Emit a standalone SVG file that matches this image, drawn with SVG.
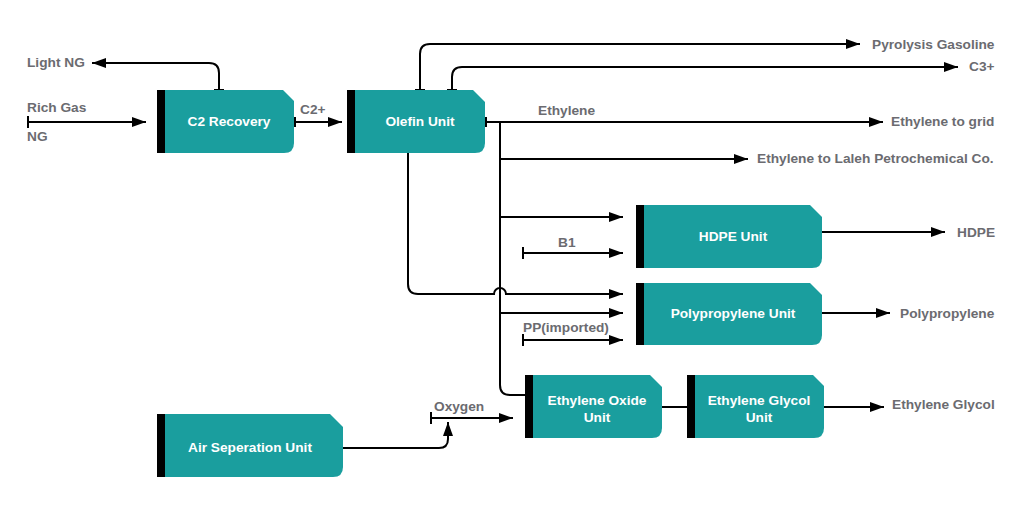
<svg xmlns="http://www.w3.org/2000/svg" width="1033" height="512" viewBox="0 0 1033 512">
<defs>
<marker id="arr" viewBox="0 0 14 10" refX="14" refY="5" markerWidth="14" markerHeight="10" markerUnits="userSpaceOnUse" orient="auto">
<path d="M0,0 L14,5 L0,10 Z" fill="#000"/>
</marker>
<style>
.box{fill:#1a9e9e}
.bar{fill:#000}
.bt{font-family:"Liberation Sans",Arial,sans-serif;font-weight:bold;font-size:13.7px;fill:#fff;text-anchor:middle}
.lb{font-family:"Liberation Sans",Arial,sans-serif;font-weight:bold;font-size:13.7px;fill:#6b6b70}
.c{fill:none;stroke:#000;stroke-width:2}
.a{marker-end:url(#arr)}
.t{fill:none;stroke:#000;stroke-width:2}
</style>
</defs>
<rect width="1033" height="512" fill="#fff"/>
<g id="connectors">
<path class="c a" d="M28,122 H146"/>
<path class="t" d="M28,116 V128"/>
<path class="c a" d="M219,90 V73 Q219,63 209,63 H92"/>
<path class="t" d="M214,90 H224"/>
<path class="c a" d="M294,122 H342"/>
<path class="t" d="M295,117 V127"/>
<path class="c a" d="M420,90 V54 Q420,44 430,44 H860"/>
<path class="t" d="M415,90 H425"/>
<path class="c a" d="M452,90 V77 Q452,67 462,67 H958"/>
<path class="t" d="M447,90 H457"/>
<path class="c a" d="M485,122 H883"/>
<path class="t" d="M486,117 V127"/>
<path class="c" d="M500,122 V385 Q500,395 510,395 H525"/>
<path class="c a" d="M500,159 H748"/>
<path class="c a" d="M500,217 H623"/>
<path class="c a" d="M500,313 H623"/>
<path class="c a" d="M523,253 H623"/>
<path class="t" d="M523,247 V259"/>
<path class="c a" d="M408,153 V284 Q408,294 418,294 H494 A6,6 0 0 1 506,294 H623"/>
<path class="c a" d="M523,340 H623"/>
<path class="t" d="M523,334 V346"/>
<path class="c a" d="M822,232 H945"/>
<path class="c a" d="M822,313 H890"/>
<path class="c" d="M662,407 H687"/>
<path class="c a" d="M824,407 H884"/>
<path class="c a" d="M431,418 H513"/>
<path class="t" d="M431,412 V424"/>
<path class="c a" d="M343,448 H439 Q448,448 448,439 V422"/>
</g>
<g id="c2recovery">
<path class="box" d="M157,90 H283 L294,101 V143 Q294,153 284,153 H157 Z"/>
<rect class="bar" x="157" y="90" width="8" height="63"/>
<text class="bt" x="229" y="126">C2 Recovery</text>
</g>
<g id="olefin">
<path class="box" d="M347,90 H473 L485,102 V143 Q485,153 475,153 H347 Z"/>
<rect class="bar" x="347" y="90" width="8" height="63"/>
<text class="bt" x="420" y="126">Olefin Unit</text>
</g>
<g id="hdpe">
<path class="box" d="M636,205 H810 L822,217 V258 Q822,268 812,268 H636 Z"/>
<rect class="bar" x="636" y="205" width="8" height="63"/>
<text class="bt" x="733" y="241">HDPE Unit</text>
</g>
<g id="pp">
<path class="box" d="M636,283 H810 L822,295 V335 Q822,345 812,345 H636 Z"/>
<rect class="bar" x="636" y="283" width="8" height="62"/>
<text class="bt" x="733" y="318">Polypropylene Unit</text>
</g>
<g id="eo">
<path class="box" d="M525,375 H650 L662,387 V428 Q662,438 652,438 H525 Z"/>
<rect class="bar" x="525" y="375" width="8" height="63"/>
<text class="bt" x="597" y="405">Ethylene Oxide</text>
<text class="bt" x="597" y="422">Unit</text>
</g>
<g id="eg">
<path class="box" d="M687,375 H813 L824,386 V428 Q824,438 814,438 H687 Z"/>
<rect class="bar" x="687" y="375" width="8" height="63"/>
<text class="bt" x="759" y="405">Ethylene Glycol</text>
<text class="bt" x="759" y="422">Unit</text>
</g>
<g id="asu">
<path class="box" d="M157,414 H330 L343,427 V467 Q343,477 333,477 H157 Z"/>
<rect class="bar" x="157" y="414" width="8" height="63"/>
<text class="bt" x="250" y="452">Air Seperation Unit</text>
</g>
<g id="labels">
<text class="lb" x="27" y="67">Light NG</text>
<text class="lb" x="27" y="112">Rich Gas</text>
<text class="lb" x="27" y="141">NG</text>
<text class="lb" x="300" y="114">C2+</text>
<text class="lb" x="538" y="115">Ethylene</text>
<text class="lb" x="872" y="49">Pyrolysis Gasoline</text>
<text class="lb" x="969" y="71">C3+</text>
<text class="lb" x="891" y="126">Ethylene to grid</text>
<text class="lb" x="757" y="163">Ethylene to Laleh Petrochemical Co.</text>
<text class="lb" x="558" y="247">B1</text>
<text class="lb" x="957" y="237">HDPE</text>
<text class="lb" x="523" y="332">PP(imported)</text>
<text class="lb" x="900" y="318">Polypropylene</text>
<text class="lb" x="434" y="411">Oxygen</text>
<text class="lb" x="892" y="409">Ethylene Glycol</text>
</g>
</svg>
